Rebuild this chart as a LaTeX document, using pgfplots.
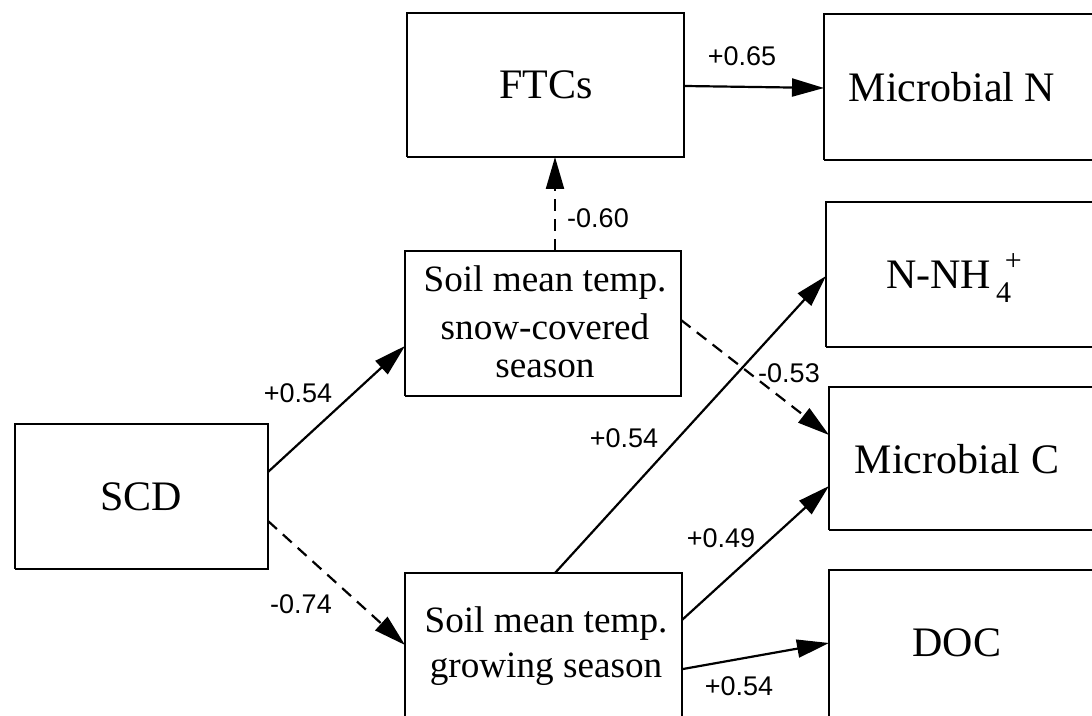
\documentclass[border=0pt]{standalone}
\usepackage{pgfplots}
\pgfplotsset{compat=1.18}
\usepackage{fontspec}
\setmainfont{Liberation Serif}
\newfontfamily\numfont{Liberation Sans}
\usetikzlibrary{arrows.meta}
\begin{document}
\begin{tikzpicture}
\begin{axis}[
  scale only axis, width=546pt, height=358pt,
  xmin=0, xmax=1092, ymin=0, ymax=716,
  hide axis, clip=true,
  boxstyle/.style={black, line width=1.4pt, no marks},
  arr/.style={black, line width=1.1pt, no marks, -{Triangle[length=16pt,width=9pt]}},
  darr/.style={black, line width=1.1pt, no marks, dash pattern=on 6pt off 4pt, -{Triangle[length=16pt,width=9pt]}},
]
% boxes
\addplot[boxstyle] coordinates {(407,559) (684,559) (684,703) (407,703) (407,559)}; % FTCs
\addplot[boxstyle] coordinates {(824,556) (1110,556) (1110,702) (824,702) (824,556)}; % Microbial N
\addplot[boxstyle] coordinates {(826,369) (1110,369) (1110,514) (826,514) (826,369)}; % NH4
\addplot[boxstyle] coordinates {(405,320) (681,320) (681,465) (405,465) (405,320)}; % snow
\addplot[boxstyle] coordinates {(15,147) (268,147) (268,292) (15,292) (15,147)}; % SCD
\addplot[boxstyle] coordinates {(405,-30) (682,-30) (682,143) (405,143) (405,-30)}; % growing
\addplot[boxstyle] coordinates {(829,186) (1110,186) (1110,329) (829,329) (829,186)}; % Microbial C
\addplot[boxstyle] coordinates {(829,-30) (1110,-30) (1110,146) (829,146) (829,-30)}; % DOC
% arrows
\addplot[arr]  coordinates {(684,630) (824,628)};
\addplot[darr] coordinates {(555,465) (555,559)};
\addplot[arr]  coordinates {(268,244) (405,370)};
\addplot[darr] coordinates {(268,195) (405,71)};
\addplot[darr] coordinates {(681,396) (829,281)};
\addplot[arr]  coordinates {(555,143) (826,440)};
\addplot[arr]  coordinates {(682,96) (829,230)};
\addplot[arr]  coordinates {(683,47) (829,73)};
% box texts
\node[font=\fontsize{21}{25}\selectfont] at (axis cs:546,631) {FTCs};
\node[font=\fontsize{21}{25}\selectfont] at (axis cs:952,629) {Microbial N};
\node[font=\fontsize{21}{25}\selectfont] at (axis cs:954,438) {N-NH\raisebox{-0.33em}{\fontsize{15}{15}\selectfont\,4}\kern-0.15em\raisebox{0.45em}{\fontsize{15}{15}\selectfont +}};
\node[font=\fontsize{21}{25}\selectfont] at (axis cs:141,219) {SCD};
\node[font=\fontsize{21}{25}\selectfont] at (axis cs:957,257) {Microbial C};
\node[font=\fontsize{21}{25}\selectfont] at (axis cs:957,73) {DOC};
\node[font=\fontsize{18.6}{22}\selectfont] at (axis cs:545,433) {Soil mean temp.};
\node[font=\fontsize{18.6}{22}\selectfont] at (axis cs:545,389) {snow-covered};
\node[font=\fontsize{18.6}{22}\selectfont] at (axis cs:545,347) {season};
\node[font=\fontsize{18.6}{22}\selectfont] at (axis cs:546,92) {Soil mean temp.};
\node[font=\fontsize{18.6}{22}\selectfont] at (axis cs:546,47) {growing season};
% path coefficients
\node[font=\numfont\fontsize{13.5}{16}\selectfont] at (axis cs:742,660) {+0.65};
\node[font=\numfont\fontsize{13.5}{16}\selectfont] at (axis cs:598,498) {-0.60};
\node[font=\numfont\fontsize{13.5}{16}\selectfont] at (axis cs:298,323) {+0.54};
\node[font=\numfont\fontsize{13.5}{16}\selectfont] at (axis cs:301,112) {-0.74};
\node[font=\numfont\fontsize{13.5}{16}\selectfont] at (axis cs:789,343) {-0.53};
\node[font=\numfont\fontsize{13.5}{16}\selectfont] at (axis cs:624,278) {+0.54};
\node[font=\numfont\fontsize{13.5}{16}\selectfont] at (axis cs:721,178) {+0.49};
\node[font=\numfont\fontsize{13.5}{16}\selectfont] at (axis cs:739,30) {+0.54};
\end{axis}
\pgfresetboundingbox
\path (current axis.south west) rectangle (current axis.north east);
\end{tikzpicture}
\end{document}
